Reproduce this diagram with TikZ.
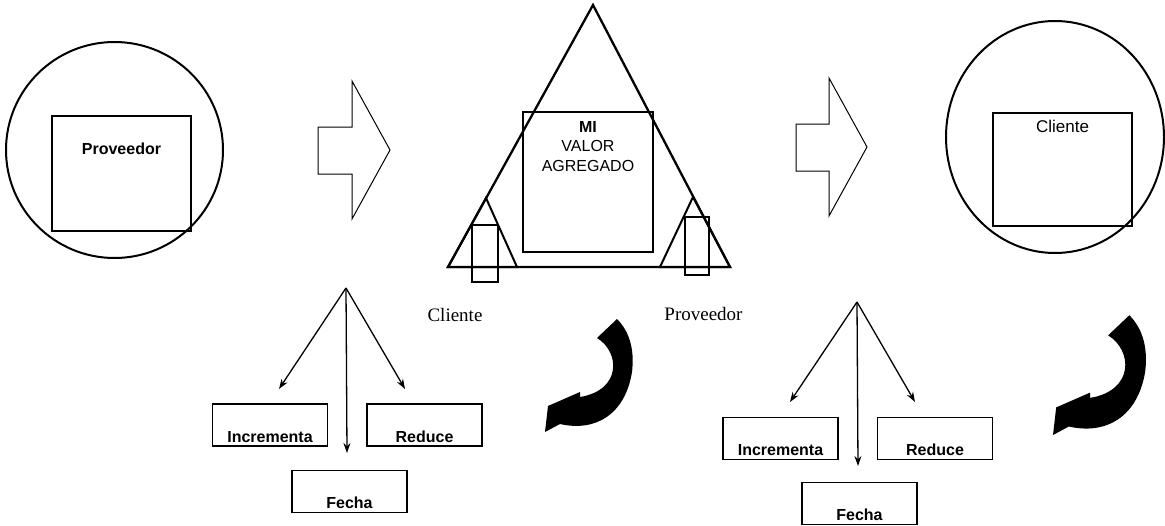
\documentclass[tikz,border=0pt]{standalone}
\usepackage{fontspec}
\setmainfont{Liberation Serif}
\setsansfont{Liberation Sans}
\usetikzlibrary{arrows.meta,calc}
\tikzset{
  frame/.style ={draw,line width=2pt},
  tbox/.style  ={draw,line width=1.7pt,minimum width=115pt,inner xsep=0pt,inner ysep=0pt,
                 text height=38pt,text depth=4pt,font=\sffamily\bfseries\fontsize{16}{19}\selectfont},
  sqlbl/.style ={font=\sffamily\bfseries\fontsize{16}{19}\selectfont,anchor=base,inner sep=0pt},
  seriflbl/.style={font=\fontsize{19}{22}\selectfont,anchor=base,inner sep=0pt},
  flow/.style  ={-{Stealth[length=10pt,width=7pt]},line width=1.3pt},
  hollow/.style={draw,line width=1pt,line join=miter},
  curvarrow/.pic={
    \fill (72,-113) -- (52,-94) .. controls (75,-80) and (77,-42) .. (35,-35)
      -- (35,-40) -- (3,-26) -- (0,0) -- (15,-8)
      .. controls (50,0) and (80,-17) .. (87,-60)
      .. controls (90,-85) and (83,-102) .. (72,-113) -- cycle;
  },
}
\begin{document}
\begin{tikzpicture}[x=1pt,y=-1pt]
\useasboundingbox (0,0) rectangle (1165,525);

% proveedor
\draw[frame] (114.5,150) ellipse [x radius=108.5,y radius=108];
\node[frame,line width=2.3pt,minimum width=139pt,minimum height=115pt,inner sep=0pt] (provSq) at (121.5,173.5) {};
\node[sqlbl] (provTxt) at ($(provSq.north)+(0,40)$) {Proveedor};
\draw[hollow] (318,127) -- (352,127) -- (352,81) -- (390,150) -- (352,219) -- (352,174) -- (318,174) -- cycle;

% mi valor agregado
\draw[line width=2.3pt,line join=miter] (593,5) -- (448,267) -- (730,267) -- cycle;
\draw[frame] (486,198) -- (448,267) -- (517,267) -- cycle;
\draw[frame] (693,197) -- (660,267) -- (730,267) -- cycle;
\node[frame,line width=2.3pt,minimum width=130pt,minimum height=140pt,inner sep=0pt] (mvaSq) at (588,182) {};
\node[inner sep=0pt,anchor=north,align=center,font=\sffamily\fontsize{16}{19.5}\selectfont] (mvaTxt)
  at ($(mvaSq.north)+(0,10)$) {\textbf{MI}\\VALOR\\AGREGADO};
\draw[frame] (472,225) rectangle (498,282);
\draw[frame] (685,217) rectangle (709,275);
\node[seriflbl] (cliLbl) at (455,321) {Cliente};
\node[seriflbl] (provLbl) at (703.5,320) {Proveedor};
\draw[hollow] (796,124) -- (829,124) -- (829,78) -- (867,147) -- (829,216) -- (829,171) -- (796,171) -- cycle;

% cliente
\draw[frame] (1055,137) ellipse [x radius=109,y radius=116];
\node[frame,line width=2.3pt,minimum width=139pt,minimum height=113pt,inner sep=0pt] (cliSq) at (1062.5,169.5) {};
\node[sqlbl,font=\sffamily\fontsize{17}{20}\selectfont] (cliTxt) at ($(cliSq.north)+(0,21)$) {Cliente};

% ramas izquierda
\coordinate (apexL) at (346,288);
\node[tbox] (incL) at (270,425) {Incrementa};
\node[tbox] (redL) at (424.5,425) {Reduce};
\node[tbox] (fecL) at (349.5,491.5) {Fecha};
\coordinate (incLend) at (279,389);
\coordinate (redLend) at (405,389);
\coordinate (fecLend) at (347,453);
\draw[flow] (apexL) -- (incLend);
\draw[flow] (apexL) -- (redLend);
\draw[flow] (apexL) -- (fecLend);

% ramas derecha
\coordinate (apexR) at (857,302);
\node[tbox] (incR) at (780.5,438.5) {Incrementa};
\node[tbox] (redR) at (935,438.5) {Reduce};
\node[tbox] (fecR) at (859.5,503.5) {Fecha};
\coordinate (incRend) at (790,402);
\coordinate (redRend) at (915,402);
\coordinate (fecRend) at (858,466);
\draw[flow] (apexR) -- (incRend);
\draw[flow] (apexR) -- (redRend);
\draw[flow] (apexR) -- (fecRend);

\pic at (545,432) {curvarrow};
\pic[scale=1.06] at (1053,435) {curvarrow};
\end{tikzpicture}
\end{document}
